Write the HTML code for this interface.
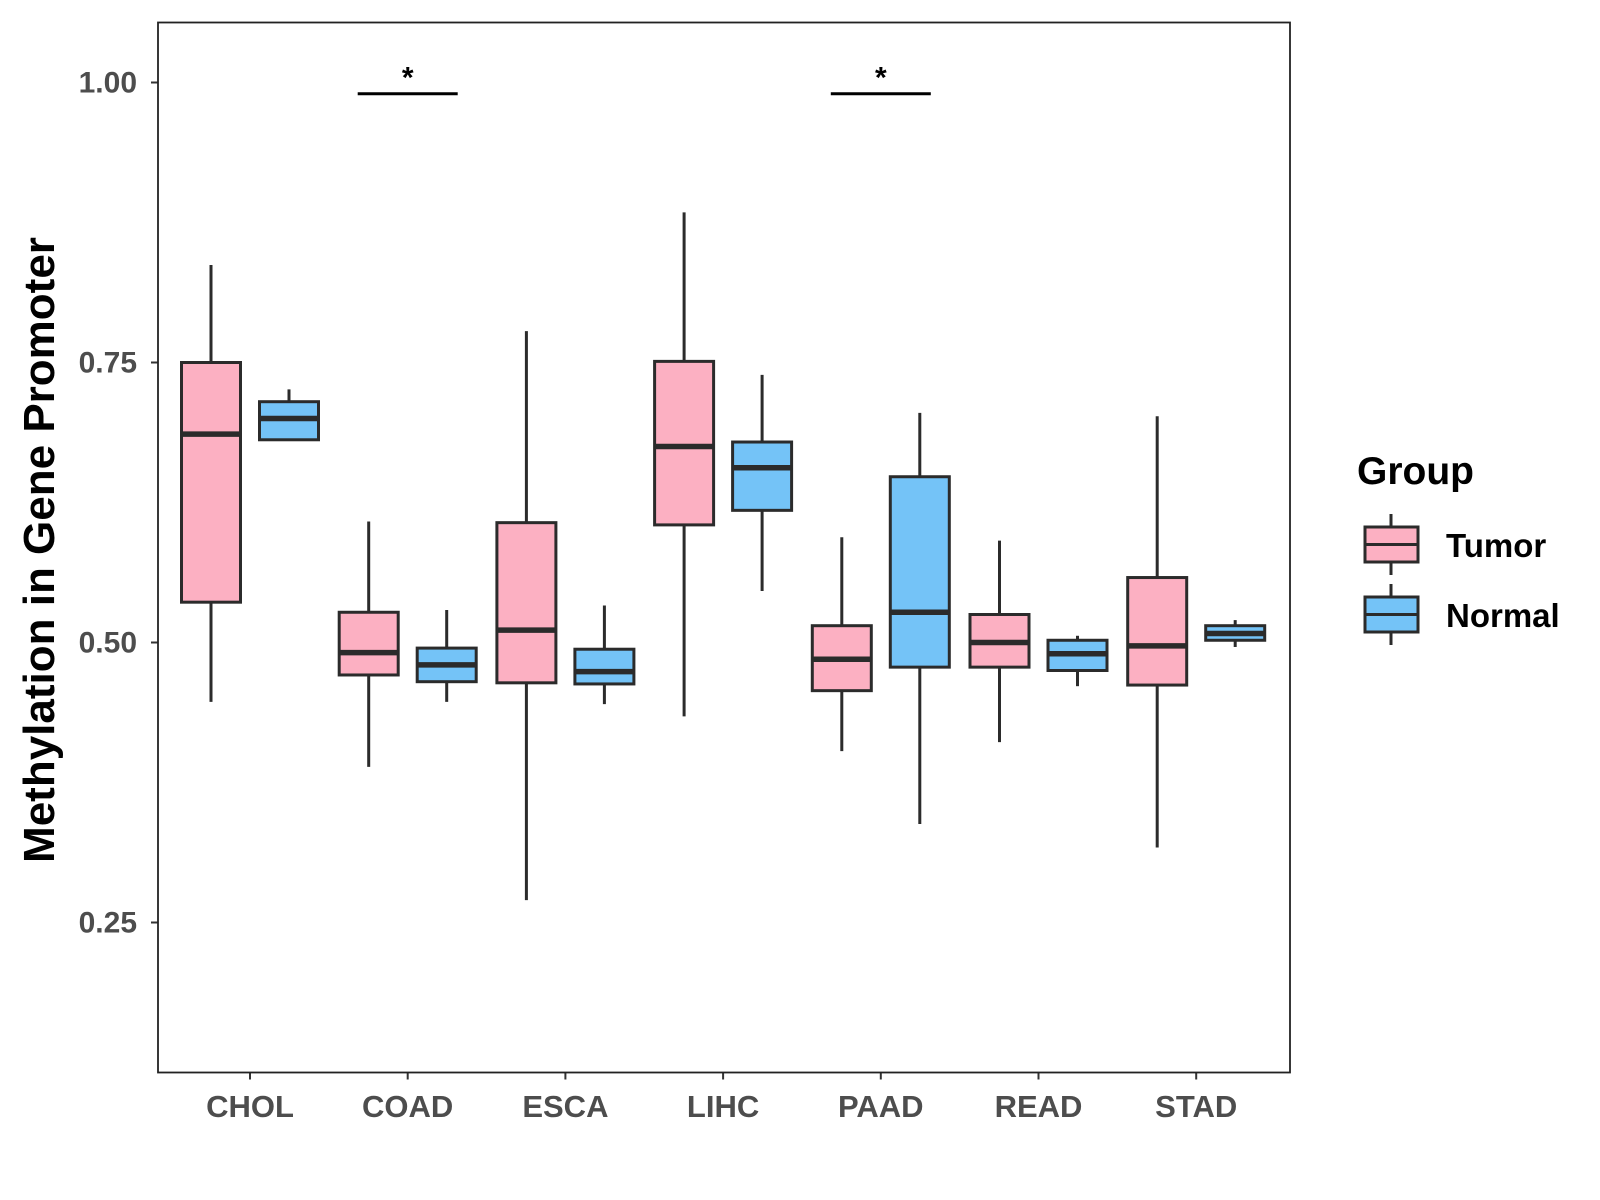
<!DOCTYPE html>
<html><head><meta charset="utf-8"><style>
html,body{margin:0;padding:0;background:#fff;}
svg{display:block;font-family:"Liberation Sans",Arial,sans-serif;}
</style></head><body>
<svg id="chart" width="1600" height="1200" viewBox="0 0 1600 1200">
<rect x="0" y="0" width="1600" height="1200" fill="#fff"/>
<g id="plot"></g>
<rect x="158" y="22.5" width="1132" height="1050" fill="none" stroke="#222" stroke-width="1.8"/>
<text transform="translate(54,550) rotate(-90)" text-anchor="middle" font-size="44" font-weight="bold" fill="#000">Methylation in Gene Promoter</text>
<g>
<text x="1357" y="484" font-size="39" font-weight="bold" fill="#000">Group</text>
<g>
<line x1="1391" y1="514" x2="1391" y2="575" stroke="#2b2b2b" stroke-width="3"/>
<rect x="1365" y="527" width="53" height="35" fill="#FCB0C2" stroke="#2b2b2b" stroke-width="3"/>
<line x1="1365" y1="544.5" x2="1418" y2="544.5" stroke="#2b2b2b" stroke-width="3"/>
<text x="1446" y="557" font-size="33" font-weight="bold" fill="#000">Tumor</text>
</g>
<g>
<line x1="1391" y1="584" x2="1391" y2="645" stroke="#2b2b2b" stroke-width="3"/>
<rect x="1365" y="597" width="53" height="35" fill="#74C3F7" stroke="#2b2b2b" stroke-width="3"/>
<line x1="1365" y1="614.5" x2="1418" y2="614.5" stroke="#2b2b2b" stroke-width="3"/>
<text x="1446" y="627" font-size="33" font-weight="bold" fill="#000">Normal</text>
</g>
</g>
</svg>
<script>
const categories = ["CHOL","COAD","ESCA","LIHC","PAAD","READ","STAD"];
const groups = ["Tumor","Normal"];
// [lower whisker, Q1, median, Q3, upper whisker]
const tumorStats = [
  [0.447,0.536,0.686,0.750,0.837],
  [0.389,0.471,0.491,0.527,0.608],
  [0.270,0.464,0.511,0.607,0.778],
  [0.434,0.605,0.675,0.751,0.884],
  [0.403,0.457,0.485,0.515,0.594],
  [0.411,0.478,0.500,0.525,0.591],
  [0.317,0.462,0.497,0.558,0.702]
];
const normalStats = [
  [0.681,0.681,0.700,0.715,0.726],
  [0.447,0.465,0.480,0.495,0.529],
  [0.445,0.463,0.474,0.494,0.533],
  [0.546,0.618,0.656,0.679,0.739],
  [0.338,0.478,0.527,0.648,0.705],
  [0.461,0.475,0.490,0.502,0.506],
  [0.496,0.502,0.508,0.515,0.520]
];
const yTicks = [0.25,0.50,0.75,1.00];
const yTickLabels = ["0.25","0.50","0.75","1.00"];
const sigCategories = ["COAD","PAAD"];
const sigLevel = 0.990;
const sigLabels = ["*","*"];

const NS="http://www.w3.org/2000/svg";
const plot=document.getElementById('plot');
function y(v){return 642.5-(v-0.5)*1120;}
function x(i){return 250+i*157.7;}
function mk(tag,attrs,parent){const e=document.createElementNS(NS,tag);for(const k in attrs)e.setAttribute(k,attrs[k]);(parent||plot).appendChild(e);return e;}
const fills=["#FCB0C2","#74C3F7"];
const stroke="#2b2b2b";
const boxW=59, dodge=39;
yTicks.forEach((t,i)=>{
  const tk=mk('line',{x1:151,x2:158,y1:y(t),y2:y(t),stroke:"#333","stroke-width":2});
  
  
  const lb=mk('text',{x:137,y:y(t)+10,"text-anchor":"end","font-size":30,"font-weight":"bold",fill:"#4d4d4d"});
  lb.textContent=yTickLabels[i];
  
  
});
categories.forEach((c,i)=>{
  const tk=mk('line',{x1:x(i),x2:x(i),y1:1072.5,y2:1079.5,stroke:"#333","stroke-width":2});
  
  
  const lb=mk('text',{x:x(i),y:1117,"text-anchor":"middle","font-size":31,"font-weight":"bold",fill:"#4d4d4d"});
  lb.textContent=c;
  
  
});
[tumorStats,normalStats].forEach((stats,g)=>{
  stats.forEach((s,i)=>{
    const cx=x(i)+(g===0?-dodge:dodge);
    const grp=mk('g',{});
    
    
    mk('line',{x1:cx,x2:cx,y1:y(s[4]),y2:y(s[0]),stroke:stroke,"stroke-width":3},grp);
    mk('rect',{x:cx-boxW/2,y:y(s[3]),width:boxW,height:Math.max(0.5,y(s[1])-y(s[3])),fill:fills[g],stroke:stroke,"stroke-width":3},grp);
    mk('line',{x1:cx-boxW/2,x2:cx+boxW/2,y1:y(s[2]),y2:y(s[2]),stroke:stroke,"stroke-width":5.5},grp);
  });
});
sigCategories.forEach((c,k)=>{
  const i=categories.indexOf(c);
  const ln=mk('line',{x1:x(i)-50,x2:x(i)+50,y1:y(sigLevel),y2:y(sigLevel),stroke:"#000","stroke-width":3});
  
  
  const t=mk('text',{x:x(i),y:y(sigLevel)-6,"text-anchor":"middle","font-size":30,"font-weight":"bold",fill:"#000"});
  t.textContent=sigLabels[k];
  
  
});
</script>
</body></html>
